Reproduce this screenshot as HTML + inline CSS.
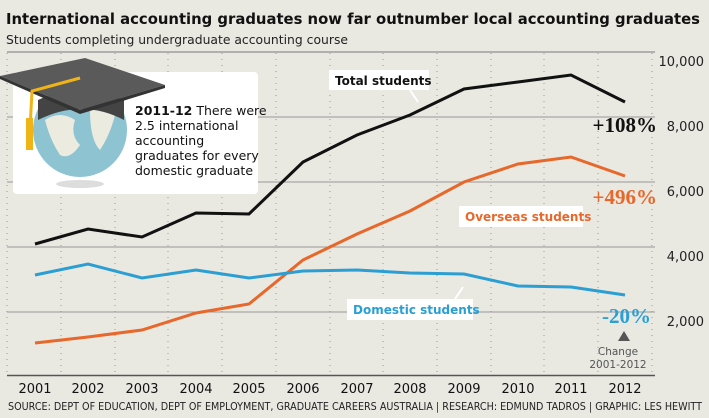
<!DOCTYPE html>
<html><head><meta charset="utf-8"><style>
body{margin:0;width:709px;height:414px;overflow:hidden;background:#e9e8e1;font-family:"DejaVu Sans","Liberation Sans",sans-serif}
</style></head><body>
<svg width="709" height="414" xmlns="http://www.w3.org/2000/svg" font-family="DejaVu Sans, Liberation Sans, sans-serif">
<rect width="709" height="414" fill="#e9e8e1"/>
<text x="6" y="24" font-size="15" font-weight="bold" fill="#111" textLength="694" lengthAdjust="spacingAndGlyphs">International accounting graduates now far outnumber local accounting graduates</text>
<text x="6" y="44" font-size="12.5" fill="#222" textLength="342" lengthAdjust="spacingAndGlyphs">Students completing undergraduate accounting course</text>
<g stroke="#999" stroke-width="1">
<line x1="7" y1="52" x2="655" y2="52" stroke="#777"/>
<line x1="7" y1="117" x2="655" y2="117"/>
<line x1="7" y1="182" x2="655" y2="182"/>
<line x1="7" y1="247" x2="655" y2="247"/>
<line x1="7" y1="312" x2="655" y2="312"/>
</g>
<g stroke="#999" stroke-width="1" stroke-dasharray="1,5">
<line x1="7" y1="53" x2="7" y2="375"/><line x1="61" y1="53" x2="61" y2="375"/><line x1="115" y1="53" x2="115" y2="375"/><line x1="168" y1="53" x2="168" y2="375"/><line x1="222" y1="53" x2="222" y2="375"/><line x1="276" y1="53" x2="276" y2="375"/><line x1="330" y1="53" x2="330" y2="375"/><line x1="383" y1="53" x2="383" y2="375"/><line x1="437" y1="53" x2="437" y2="375"/><line x1="491" y1="53" x2="491" y2="375"/><line x1="544" y1="53" x2="544" y2="375"/><line x1="598" y1="53" x2="598" y2="375"/><line x1="652" y1="53" x2="652" y2="375"/>
</g>
<line x1="7" y1="375.5" x2="655" y2="375.5" stroke="#555" stroke-width="1.5"/>
<g font-size="13" fill="#222" text-anchor="end">
<text x="704" y="66">10,000</text><text x="704" y="131">8,000</text><text x="704" y="196">6,000</text><text x="704" y="261">4,000</text><text x="704" y="326">2,000</text>
</g>
<g font-size="13" fill="#111" text-anchor="middle">
<text x="35" y="393">2001</text><text x="88" y="393">2002</text><text x="142" y="393">2003</text><text x="196" y="393">2004</text><text x="249" y="393">2005</text><text x="303" y="393">2006</text><text x="357" y="393">2007</text><text x="410" y="393">2008</text><text x="464" y="393">2009</text><text x="518" y="393">2010</text><text x="571" y="393">2011</text><text x="625" y="393">2012</text>
</g>
<text x="8" y="410" font-size="10.5" fill="#222" textLength="694" lengthAdjust="spacingAndGlyphs">SOURCE: DEPT OF  EDUCATION, DEPT OF EMPLOYMENT, GRADUATE CAREERS AUSTRALIA | RESEARCH: EDMUND TADROS | GRAPHIC: LES HEWITT</text>
<polyline fill="none" stroke="#111" stroke-width="3" points="35,244 88,229 142,237 196,213 249,214 303,162 357,135 410,115 464,89 518,82 571,75 625,102"/>
<polyline fill="none" stroke="#e8672a" stroke-width="3" points="35,343 88,337 142,330 196,313 249,304 303,260 357,234 410,211 464,182 518,164 571,157 625,176"/>
<polyline fill="none" stroke="#2b9fd3" stroke-width="3" points="35,275 88,264 142,278 196,270 249,278 303,271 357,270 410,273 464,274 518,286 571,287 625,295"/>
<rect x="329" y="70" width="100" height="20" fill="#fff"/>
<text x="335" y="85" font-size="12" font-weight="bold" fill="#111">Total students</text>
<line x1="410" y1="90" x2="418" y2="102" stroke="#fff" stroke-width="2"/>
<rect x="459" y="206" width="124" height="21" fill="#fff"/>
<text x="465" y="221" font-size="12" font-weight="bold" fill="#e8672a">Overseas students</text>
<rect x="347" y="299" width="126" height="21" fill="#fff"/>
<text x="353" y="314" font-size="12" font-weight="bold" fill="#2b9fd3">Domestic students</text>
<line x1="455" y1="299" x2="463" y2="287" stroke="#fff" stroke-width="2"/>
<g font-family="Liberation Serif, serif" font-weight="bold" font-size="21" text-anchor="end">
<text x="657" y="132" fill="#111">+108%</text>
<text x="657" y="204" fill="#e8672a">+496%</text>
<text x="651" y="323" fill="#2b9fd3">-20%</text>
</g>
<polygon points="618,341 624,331 630,341" fill="#555"/>
<text x="618" y="355" font-size="10.5" fill="#555" text-anchor="middle">Change</text>
<text x="618" y="368" font-size="10.5" fill="#555" text-anchor="middle">2001-2012</text>
<rect x="13" y="72" width="245" height="122" rx="4" fill="#fff"/>
<ellipse cx="80" cy="184" rx="24" ry="4" fill="#ddd"/>
<circle cx="80" cy="130" r="47" fill="#8ec3d2"/>
<path d="M45,120 q15,-10 30,0 q-5,15 5,25 q-10,15 -20,10 q-10,-15 -15,-35z M90,110 q15,-5 25,5 q-5,20 -15,35 q-10,-10 -10,-40z" fill="#ecebe0"/>
<path d="M38,100 q42,-20 86,0 l0,20 q-42,-22 -86,0z" fill="#444"/>
<polygon points="0,76 85,58 165,85 80,110" fill="#5a5a5a"/>
<polygon points="0,76 80,110 165,85 165,88 80,114 0,79" fill="#333"/>
<polyline points="80,78 32,91 29,148" fill="none" stroke="#f0b417" stroke-width="3"/>
<rect x="26" y="118" width="7" height="32" fill="#f0b417"/>
<g font-size="12.5" fill="#111">
<text x="135" y="115"><tspan font-weight="bold">2011-12</tspan> There were</text>
<text x="135" y="130">2.5 international</text>
<text x="135" y="145">accounting</text>
<text x="135" y="160">graduates for every</text>
<text x="135" y="175">domestic graduate</text>
</g>
</svg>
</body></html>
